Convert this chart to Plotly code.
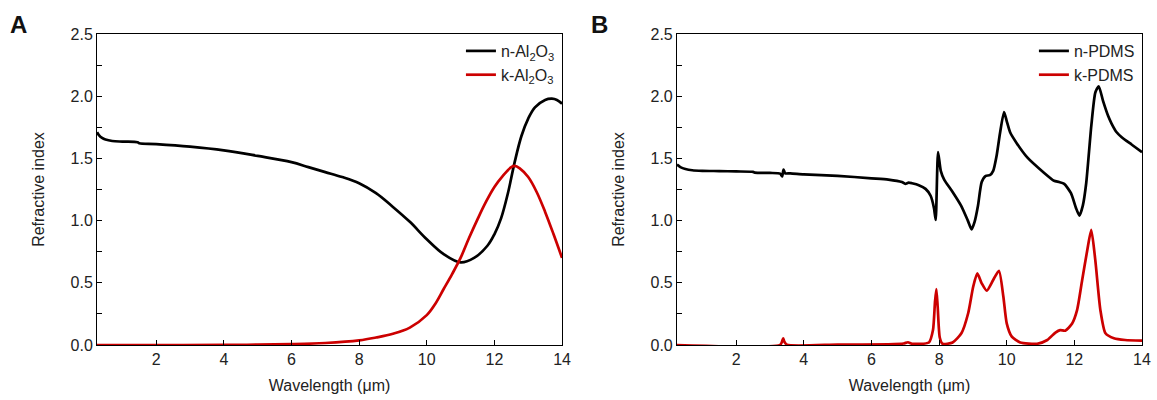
import plotly.graph_objects as go
from plotly.subplots import make_subplots

# Al2O3 optical constants
wl_n_al2o3 = [0.25, 0.3, 0.4, 0.5, 0.7, 1.0, 1.45, 1.5, 2, 3, 4, 5, 6, 6.5, 7, 7.5, 8, 8.5,
              9, 9.5, 10, 10.5, 11.0, 11.4, 11.8, 12.0, 12.2, 12.4, 12.6, 12.8, 13.0, 13.2,
              13.5, 13.7, 13.85, 14]
n_al2o3 = [1.71, 1.69, 1.665, 1.652, 1.64, 1.635, 1.63, 1.622, 1.615, 1.595, 1.565, 1.52, 1.47,
           1.43, 1.39, 1.35, 1.30, 1.22, 1.11, 0.99, 0.85, 0.73, 0.664, 0.70, 0.80, 0.89, 1.02,
           1.22, 1.47, 1.68, 1.82, 1.91, 1.97, 1.98, 1.97, 1.94]

wl_k_al2o3 = [0.25, 2, 4, 5, 6, 7, 8, 8.5, 9, 9.5, 10, 10.25, 10.5, 10.75, 11, 11.25, 11.5,
              11.75, 12, 12.25, 12.5, 12.6, 12.75, 13, 13.25, 13.5, 13.75, 14]
k_al2o3 = [0, 0, 0.001, 0.003, 0.007, 0.016, 0.037, 0.06, 0.09, 0.14, 0.24, 0.33, 0.45, 0.57,
           0.70, 0.86, 1.01, 1.15, 1.27, 1.36, 1.43, 1.44, 1.42, 1.35, 1.23, 1.07, 0.89, 0.70]

# PDMS optical constants
wl_n_pdms = [0.25, 0.35, 0.5, 0.7, 1.0, 1.5, 2.0, 2.5, 2.55, 3.0, 3.3, 3.36, 3.40, 3.45, 3.6, 4,
             5, 6, 6.5, 6.9, 7.0, 7.1, 7.2, 7.4, 7.6, 7.75, 7.85, 7.9, 7.97, 8.05, 8.15, 8.4, 8.65,
             8.85, 8.96, 9.05, 9.15, 9.26, 9.38, 9.5, 9.6, 9.7, 9.8, 9.92, 10.0, 10.1, 10.3, 10.6,
             11.1, 11.4, 11.55, 11.7, 11.9, 12.05, 12.15, 12.25, 12.35, 12.5, 12.62, 12.72, 12.85,
             13.0, 13.1, 13.25, 13.4, 13.7, 14]
n_pdms = [1.45, 1.43, 1.415, 1.405, 1.40, 1.398, 1.395, 1.392, 1.386, 1.383, 1.378, 1.355, 1.41,
          1.38, 1.38, 1.372, 1.36, 1.34, 1.33, 1.31, 1.295, 1.305, 1.30, 1.285, 1.255, 1.20, 1.10,
          1.005, 1.55, 1.40, 1.33, 1.23, 1.12, 1.0, 0.93, 0.99, 1.12, 1.31, 1.36, 1.365, 1.40, 1.52,
          1.70, 1.873, 1.80, 1.71, 1.62, 1.51, 1.385, 1.32, 1.31, 1.295, 1.22, 1.10, 1.04, 1.12,
          1.30, 1.76, 2.03, 2.08, 1.96, 1.84, 1.78, 1.71, 1.67, 1.61, 1.55]

wl_k_pdms = [0.25, 3.3, 3.36, 3.39, 3.42, 3.5, 5, 6.5, 6.95, 7.08, 7.2, 7.7, 7.82, 7.88, 7.92,
             7.96, 8.02, 8.1, 8.4, 8.66, 8.86, 9.01, 9.13, 9.26, 9.41, 9.6, 9.77, 9.9, 10.0, 10.15,
             10.4, 10.9, 11.2, 11.44, 11.58, 11.73, 11.93, 12.08, 12.23, 12.38, 12.5, 12.62, 12.77,
             12.92, 13.17, 13.5, 14]
k_pdms = [0, 0, 0.03, 0.054, 0.03, 0.002, 0.003, 0.006, 0.012, 0.022, 0.01, 0.02, 0.12, 0.35,
          0.45, 0.30, 0.06, 0.01, 0.02, 0.094, 0.255, 0.47, 0.576, 0.496, 0.437, 0.523, 0.597,
          0.39, 0.174, 0.067, 0.02, 0.01, 0.04, 0.10, 0.12, 0.115, 0.17, 0.28, 0.52, 0.76, 0.925,
          0.68, 0.28, 0.094, 0.054, 0.04, 0.035]

x_ticks = [2, 4, 6, 8, 10, 12, 14]
y_ticks = [0.0, 0.5, 1.0, 1.5, 2.0, 2.5]

BLACK = "#000000"
RED = "#cc0000"
FONT = "Arial, Liberation Sans, sans-serif"

fig = make_subplots(rows=1, cols=2, horizontal_spacing=0.11)

def line(color, smoothing):
    return dict(color=color, width=2.7, shape="spline", smoothing=smoothing)

fig.add_trace(go.Scatter(x=wl_n_al2o3, y=n_al2o3, mode="lines", line=line(BLACK, 1.0),
                         name="n-Al<sub>2</sub>O<sub>3</sub>", legend="legend"), row=1, col=1)
fig.add_trace(go.Scatter(x=wl_k_al2o3, y=k_al2o3, mode="lines", line=line(RED, 1.0),
                         name="k-Al<sub>2</sub>O<sub>3</sub>", legend="legend"), row=1, col=1)
fig.add_trace(go.Scatter(x=wl_n_pdms, y=n_pdms, mode="lines", line=line(BLACK, 0.6),
                         name="n-PDMS", legend="legend2"), row=1, col=2)
fig.add_trace(go.Scatter(x=wl_k_pdms, y=k_pdms, mode="lines", line=line(RED, 0.6),
                         name="k-PDMS", legend="legend2"), row=1, col=2)

dom_a = [0.0, 0.445]
dom_b = [0.555, 1.0]

xaxis_style = dict(range=[0.25, 14], tickvals=x_ticks, ticks="inside", ticklen=5, tickwidth=1,
                   tickcolor=BLACK, showline=True, linecolor=BLACK, linewidth=1, mirror=True,
                   showgrid=False, zeroline=False, automargin=False,
                   title=dict(text="Wavelength (μm)", font=dict(size=16, color="#222"), standoff=12),
                   tickfont=dict(size=16, color="#222"))
yaxis_style = dict(range=[0, 2.5], tickvals=y_ticks, ticktext=[f"{v:.1f}" for v in y_ticks],
                   ticks="inside", ticklen=5, tickwidth=1, tickcolor=BLACK,
                   minor=dict(dtick=0.25, tick0=0, ticks="inside", ticklen=5, tickcolor=BLACK),
                   showline=True, linecolor=BLACK, linewidth=1, mirror=True,
                   showgrid=False, zeroline=False, automargin=False,
                   title=dict(text="Refractive index", font=dict(size=16, color="#222"), standoff=21),
                   tickfont=dict(size=16, color="#222"))

fig.update_xaxes(**xaxis_style)
fig.update_yaxes(**yaxis_style)
fig.update_xaxes(domain=dom_a, row=1, col=1)
fig.update_xaxes(domain=dom_b, row=1, col=2)

legend_style = dict(bgcolor="rgba(0,0,0,0)", borderwidth=0, font=dict(size=16, color="#222"),
                    xanchor="right", yanchor="top", itemwidth=30, tracegroupgap=0)
fig.update_layout(
    width=1157, height=400,
    margin=dict(l=97, r=15, t=34, b=55, autoexpand=False),
    paper_bgcolor="white", plot_bgcolor="white",
    font=dict(family=FONT, size=16, color="#222"),
    showlegend=True,
    legend=dict(x=dom_a[1] - 0.002, y=1.0, **legend_style),
    legend2=dict(x=dom_b[1] - 0.002, y=1.0, **legend_style),
    annotations=[
        dict(text="<b>A</b>", x=-0.085, y=1.08, xref="paper", yref="paper",
             xanchor="left", yanchor="top", showarrow=False, font=dict(size=24, color="#111")),
        dict(text="<b>B</b>", x=0.471, y=1.08, xref="paper", yref="paper",
             xanchor="left", yanchor="top", showarrow=False, font=dict(size=24, color="#111")),
    ],
)

fig.write_html("out.html")
